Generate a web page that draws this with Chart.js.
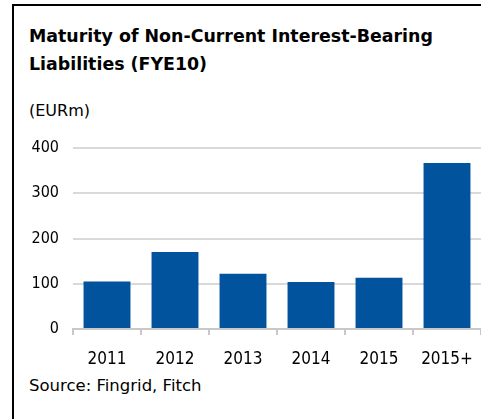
<!DOCTYPE html>
<html><head><meta charset="utf-8">
<script src="https://cdn.jsdelivr.net/npm/chart.js@4"></script>
<style>
html,body{margin:0;padding:0;background:#fff;overflow:hidden;}
#wrap{position:relative;width:481px;height:419px;overflow:hidden;font-family:"DejaVu Sans",sans-serif;color:#000;}
#frame{position:absolute;left:12px;top:4px;width:470px;height:420px;border-top:2px solid #000;border-left:2px solid #000;}
#title{position:absolute;left:29px;top:22px;font-weight:bold;font-size:17.4px;line-height:28px;}
#unit{position:absolute;left:29px;top:101px;font-size:16px;}
#source{position:absolute;left:29px;top:376px;font-size:16.5px;}
#c{position:absolute;left:0;top:0;}
</style></head>
<body><div id="wrap">
<div id="frame"></div>
<div id="title">Maturity of Non-Current Interest-Bearing<br>Liabilities (FYE10)</div>
<div id="unit">(EURm)</div>
<div id="source">Source: Fingrid, Fitch</div>
<canvas id="c" width="481" height="419"></canvas>
</div>
<script>
const categories = ["2011","2012","2013","2014","2015","2015+"];
const values = [105, 170, 122, 104, 113, 367];
const yTicks = [0, 100, 200, 300, 400];

const fam = '"DejaVu Sans Condensed", "DejaVu Sans", sans-serif';
new Chart(document.getElementById('c'), {
  type: 'bar',
  data: { labels: categories, datasets: [{ data: values, backgroundColor: '#00539c', borderWidth: 0, categoryPercentage: 1, barPercentage: 0.69 }] },
  options: {
    responsive: false, animation: false,
    layout: { padding: { top: 148, right: 0, left: 0, bottom: 0 } },
    plugins: { legend: { display: false }, tooltip: { enabled: false }, title: { display: false } },
    scales: {
      x: {
        grid: { display: true, drawOnChartArea: false, drawTicks: true, tickLength: 6, color: '#c8c8c8', lineWidth: 2, offset: true },
        border: { display: true, color: '#c8c8c8', width: 2 },
        ticks: { color: '#000', font: { family: fam, size: 17 }, padding: 14, maxRotation: 0 },
        afterFit: s => { s.height = 90; s.paddingLeft = 0; s.paddingRight = 0; }
      },
      y: {
        min: 0, max: 400,
        afterBuildTicks: s => { s.ticks = yTicks.map(v => ({ value: v })); },
        grid: { color: ctx => ctx.tick && ctx.tick.value === 0 ? 'rgba(0,0,0,0)' : '#d9d9d9', lineWidth: 2, drawTicks: false },
        border: { display: false },
        ticks: { color: '#000', font: { family: fam, size: 16 }, padding: 14 },
        afterFit: s => { s.width = 73; s.paddingTop = 0; s.paddingBottom = 0; }
      }
    }
  }
});
</script>
</body></html>
